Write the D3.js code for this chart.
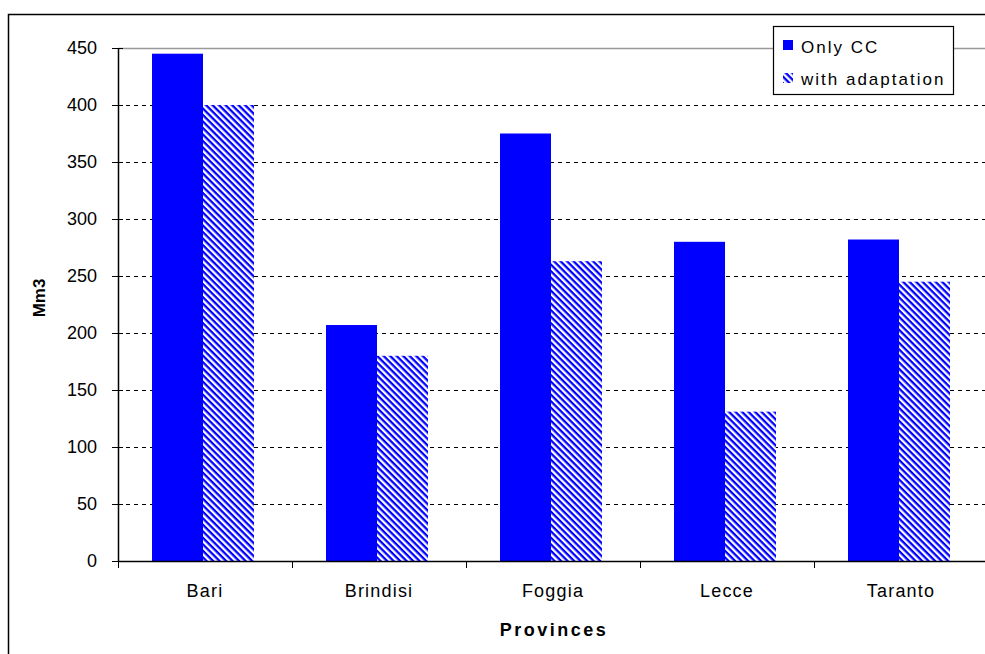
<!DOCTYPE html>
<html>
<head>
<meta charset="utf-8">
<script src="https://cdn.jsdelivr.net/npm/d3@7"></script>
<style>
  body { margin: 0; background: #fff; }
  text { font-family: "Liberation Sans", Arial, sans-serif; }
</style>
</head>
<body>
<script>
// Data
const provinces = ['Bari', 'Brindisi', 'Foggia', 'Lecce', 'Taranto'];
const seriesNames = ['Only CC', 'with adaptation'];
const onlyCC = [445, 207, 375, 280, 282];
const withAdaptation = [400, 180, 263, 131, 245];
const yTicks = [0, 50, 100, 150, 200, 250, 300, 350, 400, 450];

const W = 985, H = 654;
const margin = { top: 48, right: -3, bottom: 93, left: 118 };
const width = W - margin.left - margin.right;
const height = H - margin.top - margin.bottom;

const svg = d3.select('body').append('svg')
  .attr('width', W)
  .attr('height', H);

// hatch pattern for the second series (stripes running down-right)
const defs = svg.append('defs');
const pat = defs.append('pattern')
  .attr('id', 'hatch')
  .attr('patternUnits', 'userSpaceOnUse')
  .attr('width', 4.6)
  .attr('height', 4.6)
  .attr('patternTransform', 'rotate(45)');
pat.append('rect').attr('width', 4.6).attr('height', 4.6).attr('fill', '#fff');
pat.append('rect').attr('width', 4.6).attr('height', 2.3).attr('fill', '#0000ff');

// outer chart border
svg.append('rect')
  .attr('x', 8.5).attr('y', 14.5)
  .attr('width', W).attr('height', H)
  .attr('fill', 'none')
  .attr('stroke', '#000')
  .attr('stroke-width', 1.5);

const g = svg.append('g')
  .attr('transform', 'translate(' + margin.left + ',' + margin.top + ')');

const x0 = d3.scaleBand().domain(provinces).range([0, width]).paddingInner(0).paddingOuter(0);
const x1 = d3.scaleBand().domain(seriesNames).range([34, x0.bandwidth() - 38]).padding(0);
const y = d3.scaleLinear().domain([0, 450]).range([height, 0]);

// gridlines
g.selectAll('.grid')
  .data(yTicks.filter(d => d > 0))
  .enter().append('line')
  .attr('x1', 0).attr('x2', width)
  .attr('y1', d => Math.round(y(d)) + 0.5)
  .attr('y2', d => Math.round(y(d)) + 0.5)
  .attr('stroke', d => d === 450 ? '#999' : '#000')
  .attr('stroke-width', d => d === 450 ? 1.5 : 1)
  .attr('stroke-dasharray', d => d === 450 ? null : '4,4');

// bars
const groups = g.selectAll('.grp')
  .data(provinces)
  .enter().append('g')
  .attr('transform', d => 'translate(' + x0(d) + ',0)');

groups.append('rect')
  .attr('x', x1('Only CC'))
  .attr('width', x1.bandwidth())
  .attr('y', (d, i) => y(onlyCC[i]))
  .attr('height', (d, i) => y(0) - y(onlyCC[i]))
  .attr('fill', '#0000ff');

groups.append('rect')
  .attr('x', x1('with adaptation'))
  .attr('width', x1.bandwidth())
  .attr('y', (d, i) => y(withAdaptation[i]))
  .attr('height', (d, i) => y(0) - y(withAdaptation[i]))
  .attr('fill', 'url(#hatch)');

// y axis
const yAxis = g.append('g')
  .call(d3.axisLeft(y).tickValues(yTicks).tickSize(6).tickPadding(15));
yAxis.selectAll('.tick line').attr('x2', -6).attr('x1', 5).attr('stroke', '#000');
yAxis.select('.domain').attr('d', 'M0.5,0V' + height).attr('stroke', '#000').attr('stroke-width', 1.5);
yAxis.selectAll('text')
  .style('font-size', '18px')
  .attr('fill', '#000');

// x axis
const xAxis = g.append('g')
  .attr('transform', 'translate(0,' + height + ')')
  .call(d3.axisBottom(x0).tickSize(0).tickPadding(23));
xAxis.select('.domain').attr('d', 'M0,0.5H' + width).attr('stroke', '#000').attr('stroke-width', 1.5);
xAxis.selectAll('text')
  .style('font-size', '18px')
  .style('letter-spacing', '1.2px')
  .attr('fill', '#000');
g.selectAll('.xtick')
  .data(d3.range(provinces.length + 1))
  .enter().append('line')
  .attr('x1', i => i * x0.bandwidth() + 0.5)
  .attr('x2', i => i * x0.bandwidth() + 0.5)
  .attr('y1', height)
  .attr('y2', height + 7)
  .attr('stroke', '#000');

// axis titles
svg.append('text')
  .attr('transform', 'translate(45,298) rotate(-90)')
  .attr('text-anchor', 'middle')
  .style('font-size', '17px')
  .style('font-weight', 'bold')
  .text('Mm3');

svg.append('text')
  .attr('x', 554)
  .attr('y', 636)
  .attr('text-anchor', 'middle')
  .style('font-size', '18px')
  .style('font-weight', 'bold')
  .style('letter-spacing', '2.5px')
  .text('Provinces');

// legend
const legend = svg.append('g').attr('transform', 'translate(773,26)');
legend.append('rect')
  .attr('x', 0.5).attr('y', 0.5)
  .attr('width', 180).attr('height', 68)
  .attr('fill', '#fff')
  .attr('stroke', '#000')
  .attr('stroke-width', 1.2);

const legendFills = ['#0000ff', 'url(#hatch)'];
seriesNames.forEach(function (name, i) {
  legend.append('rect')
    .attr('x', 10).attr('y', 14 + i * 33)
    .attr('width', 10).attr('height', 10)
    .attr('fill', legendFills[i]);
  legend.append('text')
    .attr('x', 28).attr('y', 27 + i * 32)
    .style('font-size', '17px')
    .style('letter-spacing', '2px')
    .text(name);
});
</script>
</body>
</html>
